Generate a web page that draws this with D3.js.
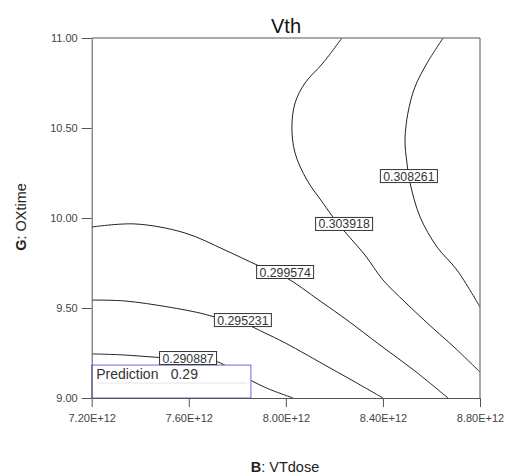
<!DOCTYPE html>
<html><head><meta charset="utf-8">
<script src="https://cdn.jsdelivr.net/npm/d3@7"></script>
<style>
html,body{margin:0;padding:0;background:#fff;}
svg{display:block;}
text{font-family:"Liberation Sans",Arial,sans-serif;}
</style></head>
<body>
<svg id="c" width="505" height="475"></svg>
<script>
// ---- data ----
const title = "Vth";
const xTicks = [7.2, 7.6, 8.0, 8.4, 8.8];          // B: VTdose (x 1E12)
const xTickLabels = ["7.20E+12","7.60E+12","8.00E+12","8.40E+12","8.80E+12"];
const yTicks = [9.0, 9.5, 10.0, 10.5, 11.0];        // G: OXtime
const yTickLabels = ["9.00","9.50","10.00","10.50","11.00"];
const contourLevels = ["0.290887","0.295231","0.299574","0.303918","0.308261"];

const c1Dose = [7.20, 7.32, 7.48, 7.60, 7.71, 7.79, 7.86, 7.93, 8.03];
const c1Time = [9.245, 9.24, 9.225, 9.215, 9.205, 9.15, 9.095, 9.05, 9.00];
const c2Dose = [7.20, 7.337, 7.514, 7.646, 7.708, 7.823, 7.914, 7.997, 8.182, 8.285, 8.40];
const c2Time = [9.544, 9.539, 9.506, 9.472, 9.45, 9.417, 9.361, 9.306, 9.167, 9.089, 9.00];
const c3Dose = [7.20, 7.378, 7.584, 7.749, 7.881, 7.997, 8.141, 8.252, 8.388, 8.532, 8.668];
const c3Time = [9.95, 9.967, 9.917, 9.822, 9.739, 9.672, 9.539, 9.433, 9.294, 9.15, 9.00];
const c4Dose = [8.231, 8.153, 8.079, 8.038, 8.025, 8.038, 8.087, 8.153, 8.203, 8.244, 8.326, 8.400, 8.491, 8.582, 8.697, 8.80];
const c4Time = [11.0, 10.861, 10.75, 10.639, 10.506, 10.361, 10.211, 10.083, 9.989, 9.922, 9.794, 9.656, 9.533, 9.417, 9.278, 9.144];
const c5Dose = [8.648, 8.582, 8.532, 8.503, 8.491, 8.499, 8.512, 8.553, 8.623, 8.705, 8.80];
const c5Time = [11.0, 10.861, 10.728, 10.583, 10.433, 10.306, 10.194, 10.006, 9.839, 9.711, 9.506];

const labelDose = [7.597, 7.823, 7.997, 8.240, 8.507];
const labelTime = [9.222, 9.433, 9.70, 9.967, 10.233];

const predictionLabel = "Prediction";
const predictionValue = "0.29";
const predDose = [7.20, 7.856];
const predTime = [9.00, 9.183];

// ---- chart ----
const svg = d3.select("#c");
const L = 91.7, R = 480, T = 38, B = 398;
const x = d3.scaleLinear().domain([7.2, 8.8]).range([L, R]);
const y = d3.scaleLinear().domain([9, 11]).range([B, T]);

svg.append("defs").append("clipPath").attr("id","clip")
  .append("rect").attr("x",L).attr("y",T).attr("width",R-L).attr("height",B-T);

const contours = [[c1Dose,c1Time],[c2Dose,c2Time],[c3Dose,c3Time],[c4Dose,c4Time],[c5Dose,c5Time]];
const line = d3.line().x(d=>x(d[0])).y(d=>y(d[1])).curve(d3.curveCatmullRom.alpha(0.5));
const g = svg.append("g").attr("clip-path","url(#clip)");
contours.forEach(([ds,ts])=>{
  const pts = ds.map((d,i)=>[d, ts[i]]);
  g.append("path").attr("d", line(pts)).attr("fill","none")
    .attr("stroke","#222").attr("stroke-width",1);
});

// prediction box
const px0 = x(predDose[0]), px1 = x(predDose[1]), py0 = y(predTime[1]), py1 = y(predTime[0]);
svg.append("rect").attr("x",px0).attr("y",py0).attr("width",px1-px0).attr("height",py1-py0)
  .attr("fill","#fff").attr("stroke","#6868e0").attr("stroke-width",1);
svg.append("line").attr("x1",px0+6).attr("x2",px1-4).attr("y1",py0+18).attr("y2",py0+18)
  .attr("stroke","#e4e4e4").attr("stroke-width",1);
svg.append("text").attr("x",px0+4.5).attr("y",py0+13.5).attr("font-size",14).attr("fill","#333")
  .text(predictionLabel);
svg.append("text").attr("x",px0+79).attr("y",py0+13.5).attr("font-size",14).attr("fill","#333")
  .text(predictionValue);

// contour labels
contourLevels.forEach((lab,i)=>{
  const cx = x(labelDose[i]), cy = y(labelTime[i]);
  const w = 57, h = 13;
  svg.append("rect").attr("x",cx-w/2).attr("y",cy-h/2).attr("width",w).attr("height",h)
    .attr("fill","#fff").attr("stroke","#333").attr("stroke-width",1);
  svg.append("text").attr("x",cx).attr("y",cy+4.5).attr("text-anchor","middle")
    .attr("font-size",12.3).attr("fill","#333").text(lab);
});

// axes
const axisColor = "#555";
const ax = svg.append("g").attr("transform",`translate(0,${B})`)
  .call(d3.axisBottom(x).tickValues(xTicks).tickFormat((d,i)=>xTickLabels[i]).tickSize(9).tickSizeOuter(0).tickPadding(7));
const ay = svg.append("g").attr("transform",`translate(${L},0)`)
  .call(d3.axisLeft(y).tickValues(yTicks).tickFormat((d,i)=>yTickLabels[i]).tickSize(10).tickSizeOuter(0).tickPadding(4));
[ax,ay].forEach(a=>{
  a.selectAll("path").attr("stroke",axisColor).attr("stroke-width",1);
  a.selectAll("line").attr("stroke",axisColor).attr("stroke-width",1);
  a.selectAll("text").attr("fill","#444").attr("font-size",11)
    .attr("font-family","'Liberation Sans',Arial,sans-serif");
});
// top and right borders
svg.append("line").attr("x1",L).attr("x2",R).attr("y1",T).attr("y2",T).attr("stroke",axisColor);
svg.append("line").attr("x1",R).attr("x2",R).attr("y1",T).attr("y2",B).attr("stroke",axisColor);

// title
svg.append("text").attr("x",286).attr("y",33).attr("text-anchor","middle")
  .attr("font-size",20).attr("fill","#111").text(title);

// axis titles
const xt = svg.append("text").attr("x",285).attr("y",472).attr("text-anchor","middle")
  .attr("font-size",14.5).attr("fill","#222");
xt.append("tspan").attr("font-weight","bold").text("B");
xt.append("tspan").text(": VTdose");
const yt = svg.append("text").attr("transform","translate(26,217) rotate(-90)")
  .attr("text-anchor","middle").attr("font-size",14.5).attr("fill","#222");
yt.append("tspan").attr("font-weight","bold").text("G");
yt.append("tspan").text(": OXtime");
</script>
</body></html>
